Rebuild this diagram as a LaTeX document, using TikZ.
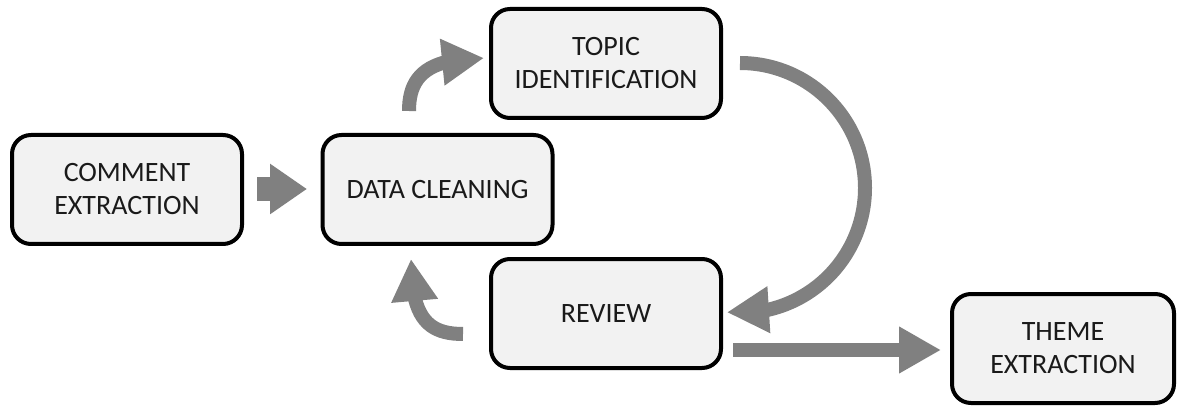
\documentclass[tikz,border=0pt]{standalone}
\usepackage{fontspec}
\setmainfont{Carlito}
\usetikzlibrary{arrows.meta,bending,calc}
\definecolor{boxfill}{HTML}{F2F2F2}
\definecolor{arrowgray}{HTML}{808080}
\definecolor{textgray}{HTML}{1A1A1A}
\tikzset{
  procbox/.style={draw=black, line width=4pt, fill=boxfill, rounded corners=19pt,
    minimum width=230pt, minimum height=109pt, align=center, text=textgray,
    font=\fontsize{28pt}{33pt}\selectfont, inner sep=0pt},
  flow/.style={draw=arrowgray, line width=14pt},
  bighead/.style={-{Triangle[length=42pt,width=44pt]}},
}
\begin{document}
\begin{tikzpicture}[x=1pt,y=-1pt]
\useasboundingbox (0,0) rectangle (1178,406);
\node[procbox] (ce) at (127,189.5) {COMMENT\\EXTRACTION};
\node[procbox] (dc) at (437.5,189.5) {DATA CLEANING};
\node[procbox] (ti) at (606,63.5) {TOPIC\\IDENTIFICATION};
\node[procbox] (rv) at (606,313.5) {REVIEW};
\node[procbox, minimum width=222pt] (te) at (1063,348.5) {THEME\\EXTRACTION};
% connector end points
\coordinate (a1s) at (257,189);
\coordinate (a1e) at (307,189);
\coordinate (a2s) at (409,111);
\coordinate (a2e) at (484,58);
\coordinate (a3s) at (740,63);
\coordinate (a4s) at (463,334);
\coordinate (a4e) at (411,259);
\coordinate (a5s) at (733,350);
\coordinate (a5e) at (941,350);
\draw[flow, line width=24pt, -{Triangle[length=37pt,width=48pt]}] (a1s) -- (a1e);
\draw[flow, bighead] (a2s) .. controls (409,78) and (425,58) .. (a2e);
\draw[flow, bighead] (a3s) arc[start angle=-90, end angle=96, radius=125];
\draw[flow, bighead] (a4s) .. controls (428,334) and (411,318) .. (a4e);
\draw[flow, bighead] (a5s) -- (a5e);
\end{tikzpicture}
\end{document}
